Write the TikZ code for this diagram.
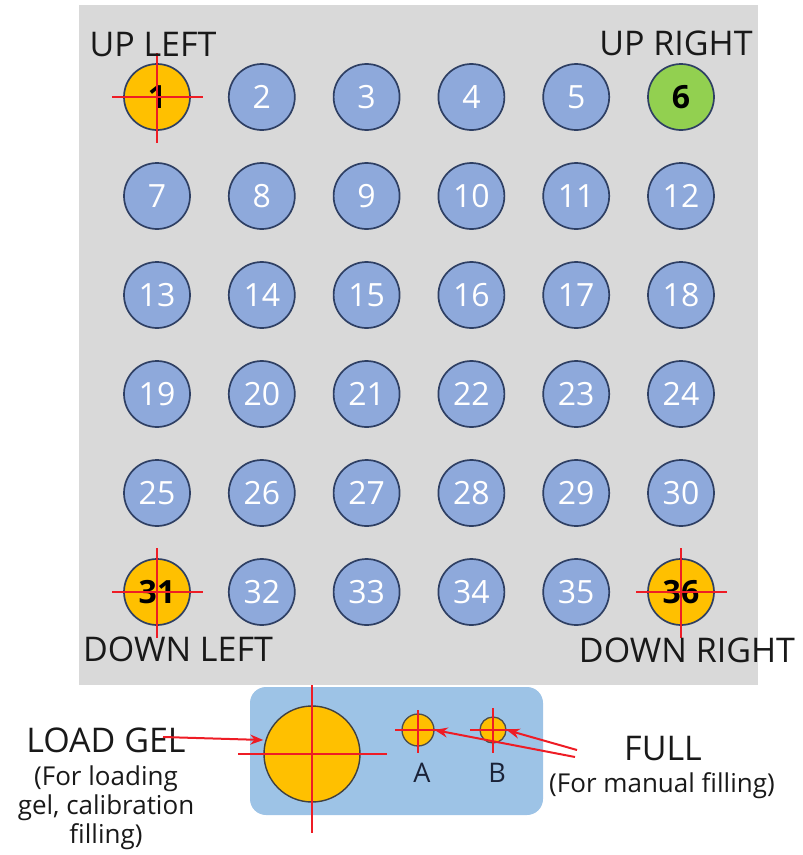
\documentclass[tikz,border=0pt]{standalone}
\usepackage{fontspec}
\setmainfont{Open Sans}
\usetikzlibrary{arrows.meta}
\definecolor{bgray}{HTML}{D9D9D9}
\definecolor{holeblue}{HTML}{8EA9DB}
\definecolor{holeedge}{HTML}{2E3F63}
\definecolor{orng}{HTML}{FFC000}
\definecolor{grn}{HTML}{92D050}
\definecolor{boxblue}{HTML}{9DC3E6}
\definecolor{xred}{HTML}{EE1C25}
\definecolor{navy}{HTML}{1A2238}
\begin{document}
\begin{tikzpicture}[x=1pt,y=-1pt,
  hole/.style={circle, draw=holeedge, line width=1.7pt, fill=holeblue, minimum size=66pt, inner sep=0pt, text=white, font=\fontsize{32}{32}\selectfont},
  spec/.style={hole, text=black, font=\fontsize{32}{32}\selectfont\bfseries},
  cross/.style={draw=xred, line width=2.3pt},
  lbl/.style={inner sep=0pt, anchor=base, font=\fontsize{34}{34}\selectfont, text=black!90},
  sub/.style={inner sep=0pt, anchor=base, font=\fontsize{26}{26}\selectfont, text=black!90},
  arr/.style={draw=xred, line width=2pt, -{Stealth[length=13pt,width=10pt]}}
]
\useasboundingbox (0,0) rectangle (803,855);
\fill[bgray] (79,5) rectangle (758,685);

\foreach \r in {0,...,5}{
  \foreach \c in {0,...,5}{
    \pgfmathtruncatemacro{\n}{6*\r+\c+1}
    \pgfmathsetmacro{\xx}{157+104.8*\c}
    \pgfmathsetmacro{\yy}{97+99*\r}
    \ifnum\n=1
      \node[spec, fill=orng] (c\n) at (\xx,\yy) {\n};
    \else\ifnum\n=6
      \node[spec, fill=grn] (c\n) at (\xx,\yy) {\n};
    \else\ifnum\n=31
      \node[spec, fill=orng] (c\n) at (\xx,\yy) {\n};
    \else\ifnum\n=36
      \node[spec, fill=orng] (c\n) at (\xx,\yy) {\n};
    \else
      \node[hole] (c\n) at (\xx,\yy) {\n};
    \fi\fi\fi\fi
  }
}

% crosshairs on the corner holes
\foreach \k in {1,31,36}{
  \draw[cross] ([xshift=-45pt]c\k.center) -- ([xshift=46pt]c\k.center);
  \draw[cross] ([yshift=44pt]c\k.center) -- ([yshift=-46pt]c\k.center);
}

\node[lbl] (ul) at (153,56) {UP LEFT};
\node[lbl] (ur) at (676,55) {UP RIGHT};
\node[lbl] (dl) at (178,661) {DOWN LEFT};
\node[lbl] (dr) at (687,662) {DOWN RIGHT};

% bottom tray
\fill[boxblue, rounded corners=16pt] (250,687) rectangle (543,815);
\node[circle, draw=black!75, line width=1.4pt, fill=orng, minimum size=96pt, inner sep=0pt] (gel) at (312,754) {};
\node[circle, draw=black!70, line width=1.3pt, fill=orng, minimum size=32pt, inner sep=0pt] (pa) at (418,730) {};
\node[circle, draw=black!70, line width=1.3pt, fill=orng, minimum size=26pt, inner sep=0pt] (pb) at (493,730) {};
\draw[cross] ([xshift=-74pt]gel.center) -- ([xshift=75pt]gel.center);
\draw[cross] ([yshift=69pt]gel.center) -- ([yshift=-79pt]gel.center);
\draw[cross] ([xshift=-23pt]pa.center) -- ([xshift=24pt]pa.center);
\draw[cross] ([yshift=20pt]pa.center) -- ([yshift=-23pt]pa.center);
\draw[cross] ([xshift=-23pt]pb.center) -- ([xshift=24pt]pb.center);
\draw[cross] ([yshift=22pt]pb.center) -- ([yshift=-23pt]pb.center);

\node[sub, text=navy, font=\fontsize{27}{27}\selectfont] (la) at (422,782) {A};
\node[sub, text=navy, font=\fontsize{27}{27}\selectfont] (lb) at (497,782) {B};

\node[lbl] (load) at (106,752) {LOAD GEL};
\node[sub] (load1) at (106,785) {(For loading};
\node[sub] (load2) at (106,814) {gel, calibration};
\node[sub] (load3) at (106,843) {filling)};

\node[lbl] (full) at (663,760) {FULL};
\node[sub] (full1) at (662,792) {(For manual filling)};

\coordinate (gs) at (163,737);
\coordinate (fs1) at (577,750);
\coordinate (fs2) at (575,757);
\draw[arr] (gs) -- (gel.west |- 0,740);
\draw[arr] (fs1) -- (pb.east);
\draw[arr] (fs2) -- (pa.east);
\end{tikzpicture}
\end{document}
